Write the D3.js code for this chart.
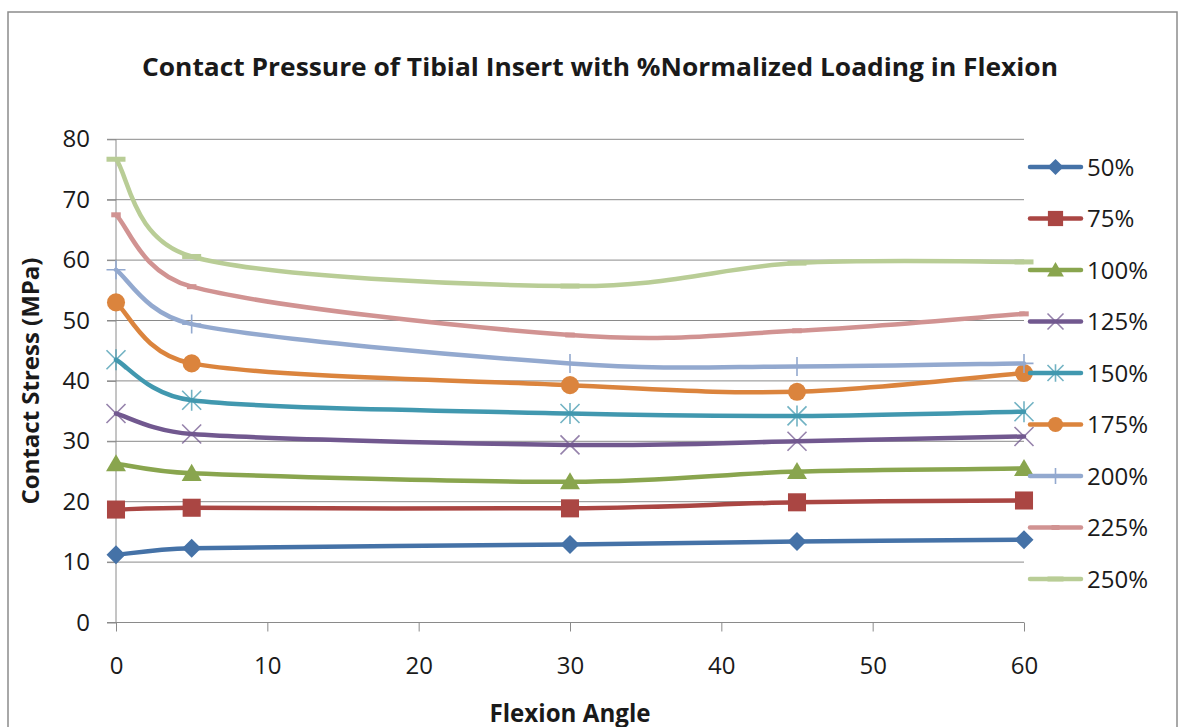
<!DOCTYPE html>
<html>
<head>
<meta charset="utf-8">
<script src="https://cdn.jsdelivr.net/npm/d3@7"></script>
<style>
  html, body { margin: 0; padding: 0; background: #fff; }
  svg { display: block; }
  text { font-family: "Open Sans", "DejaVu Sans", sans-serif; fill: #1a1a1a; }
</style>
</head>
<body>
<svg id="chart" width="1185" height="727"></svg>
<script>
// ---- data ----
const angles = [0, 5, 30, 45, 60];
const seriesNames = ["50%", "75%", "100%", "125%", "150%", "175%", "200%", "225%", "250%"];
const s50  = [11.2, 12.3, 12.9, 13.4, 13.7];
const s75  = [18.7, 19.0, 18.9, 19.9, 20.2];
const s100 = [26.3, 24.7, 23.3, 25.0, 25.5];
const s125 = [34.6, 31.2, 29.4, 30.0, 30.8];
const s150 = [43.5, 36.8, 34.6, 34.2, 34.9];
const s175 = [53.0, 42.9, 39.3, 38.2, 41.3];
const s200 = [58.4, 49.4, 42.9, 42.4, 42.9];
const s225 = [67.5, 55.6, 47.6, 48.3, 51.1];
const s250 = [76.7, 60.6, 55.7, 59.5, 59.7];
const seriesValues = [s50, s75, s100, s125, s150, s175, s200, s225, s250];
const colors = ["#4572A7", "#AA4643", "#89A54E", "#71588F", "#4198AF", "#DB843D", "#93A9CF", "#D19392", "#B9CD96"];
const markers = ["diamond", "square", "triangle", "x", "star", "circle", "plus", "dash", "longdash"];
const xTicks = [0, 10, 20, 30, 40, 50, 60];
const yTicks = [0, 10, 20, 30, 40, 50, 60, 70, 80];
const titleText = "Contact Pressure of Tibial Insert with %Normalized Loading in Flexion";
const xTitle = "Flexion Angle";
const yTitle = "Contact Stress (MPa)";

// ---- layout ----
const svg = d3.select("#chart");
const x = d3.scaleLinear().domain([0, 60]).range([116, 1024]);
const y = d3.scaleLinear().domain([0, 80]).range([622.5, 139.3]);

function fit(sel, width) {
  sel.attr("textLength", width).attr("lengthAdjust", "spacingAndGlyphs");
}

// outer frame
svg.append("rect").attr("x", 8).attr("y", 12).attr("width", 1169).attr("height", 740)
  .attr("fill", "#fff").attr("stroke", "#8c8c8c").attr("stroke-width", 1.5);

// title
svg.append("text").attr("x", 600).attr("y", 76).attr("text-anchor", "middle")
  .attr("font-size", 25).attr("font-weight", "bold").text(titleText)
  .call(fit, 916);

// gridlines
svg.append("g").selectAll("line").data(yTicks.filter(d => d > 0)).join("line")
  .attr("x1", 107).attr("x2", x(60))
  .attr("y1", d => y(d)).attr("y2", d => y(d))
  .attr("stroke", "#8a8a8a").attr("stroke-width", 1);

// y axis
const yAxis = d3.axisLeft(y).tickValues(yTicks).tickSize(9).tickPadding(17).tickFormat(d3.format("d"));
const gy = svg.append("g").attr("transform", `translate(${x(0)},0)`).call(yAxis);
gy.select(".domain").attr("stroke", "#8a8a8a").attr("d", `M0,${y(80)}V${y(0)}`);
gy.selectAll(".tick line").attr("stroke", "#8a8a8a");
gy.selectAll(".tick text").attr("font-size", 24).attr("font-family", "Open Sans").attr("fill", "#1a1a1a");

// x axis
const xAxis = d3.axisBottom(x).tickValues(xTicks).tickSize(9).tickPadding(25).tickFormat(d3.format("d"));
const gx = svg.append("g").attr("transform", `translate(0,${y(0)})`).call(xAxis);
gx.select(".domain").attr("stroke", "#8a8a8a").attr("d", `M${x(0) - 9},0H${x(60)}`);
gx.selectAll(".tick line").attr("stroke", "#8a8a8a");
gx.selectAll(".tick text").attr("font-size", 24).attr("font-family", "Open Sans").attr("fill", "#1a1a1a");

// axis titles
svg.append("text").attr("x", 570).attr("y", 722).attr("text-anchor", "middle")
  .attr("font-size", 25).attr("font-weight", "bold").text(xTitle).call(fit, 161);
svg.append("text").attr("transform", "translate(39,381) rotate(-90)").attr("text-anchor", "middle")
  .attr("font-size", 24).attr("font-weight", "bold").text(yTitle).call(fit, 247);

// marker drawing
function drawMarker(g, type, cx, cy, color, s) {
  const h = s / 2;
  switch (type) {
    case "diamond":
      g.append("path").attr("d", `M${cx},${cy - h}L${cx + h},${cy}L${cx},${cy + h}L${cx - h},${cy}Z`).attr("fill", color);
      break;
    case "square":
      g.append("rect").attr("x", cx - h * 0.95).attr("y", cy - h * 0.95).attr("width", s * 0.95).attr("height", s * 0.95).attr("fill", color);
      break;
    case "triangle":
      g.append("path").attr("d", `M${cx},${cy - h}L${cx + h * 1.05},${cy + h * 0.8}L${cx - h * 1.05},${cy + h * 0.8}Z`).attr("fill", color);
      break;
    case "circle":
      g.append("circle").attr("cx", cx).attr("cy", cy).attr("r", h * 0.95).attr("fill", color);
      break;
    case "x":
      g.append("path").attr("d", `M${cx - h},${cy - h}L${cx + h},${cy + h}M${cx - h},${cy + h}L${cx + h},${cy - h}`)
        .attr("stroke", color).attr("stroke-width", 1.6).attr("opacity", 0.75).attr("fill", "none");
      break;
    case "star":
      g.append("path").attr("d", `M${cx - h},${cy - h}L${cx + h},${cy + h}M${cx - h},${cy + h}L${cx + h},${cy - h}M${cx},${cy - h * 1.1}V${cy + h * 1.1}`)
        .attr("stroke", color).attr("stroke-width", 1.6).attr("opacity", 0.75).attr("fill", "none");
      break;
    case "plus":
      g.append("path").attr("d", `M${cx - h},${cy}H${cx + h}M${cx},${cy - h}V${cy + h}`)
        .attr("stroke", color).attr("stroke-width", 1.6).attr("fill", "none");
      break;
    case "dash":
      g.append("rect").attr("x", cx - s * 0.25).attr("y", cy - 2.5).attr("width", s * 0.5).attr("height", 5).attr("fill", color);
      break;
    case "longdash":
      g.append("rect").attr("x", cx - h).attr("y", cy - 2.5).attr("width", s).attr("height", 5).attr("fill", color);
      break;
  }
}

// Excel-like smoothing: Catmull-Rom tangents (1/6), arms clamped to half the segment length
function smoothPath(P) {
  const n = P.length;
  const tan = P.map((p, i) => {
    const a = P[Math.max(0, i - 1)], b = P[Math.min(n - 1, i + 1)];
    return [(b[0] - a[0]) / 6, (b[1] - a[1]) / 6];
  });
  const path = d3.path();
  path.moveTo(P[0][0], P[0][1]);
  for (let i = 0; i < n - 1; i++) {
    const p0 = P[i], p1 = P[i + 1];
    const seg = Math.hypot(p1[0] - p0[0], p1[1] - p0[1]);
    const clamp = t => {
      const L = Math.hypot(t[0], t[1]);
      const lim = 0.5 * seg;
      return L > lim ? [t[0] * lim / L, t[1] * lim / L] : t;
    };
    const a = clamp(tan[i]), b = clamp(tan[i + 1]);
    path.bezierCurveTo(p0[0] + a[0], p0[1] + a[1], p1[0] - b[0], p1[1] - b[1], p1[0], p1[1]);
  }
  return path.toString();
}

// series
seriesValues.forEach((vals, i) => {
  const g = svg.append("g");
  const pts = angles.map((a, j) => [x(a), y(vals[j])]);
  g.append("path").attr("d", smoothPath(pts)).attr("fill", "none").attr("stroke", colors[i])
    .attr("stroke-width", 4.5).attr("stroke-linecap", "round").attr("stroke-linejoin", "round");
  pts.forEach(p => drawMarker(g, markers[i], p[0], p[1], colors[i], 19));
});

// legend
const legendY0 = 167, legendStep = 51.5;
seriesNames.forEach((name, i) => {
  const g = svg.append("g");
  const ly = legendY0 + i * legendStep;
  g.append("line").attr("x1", 1030).attr("x2", 1081).attr("y1", ly).attr("y2", ly)
    .attr("stroke", colors[i]).attr("stroke-width", 4.5).attr("stroke-linecap", "round");
  drawMarker(g, markers[i], 1055.5, ly, colors[i], 16);
  g.append("text").attr("x", 1087).attr("y", ly).attr("dy", "0.36em")
    .attr("font-size", 24).text(name);
});
</script>
</body>
</html>
